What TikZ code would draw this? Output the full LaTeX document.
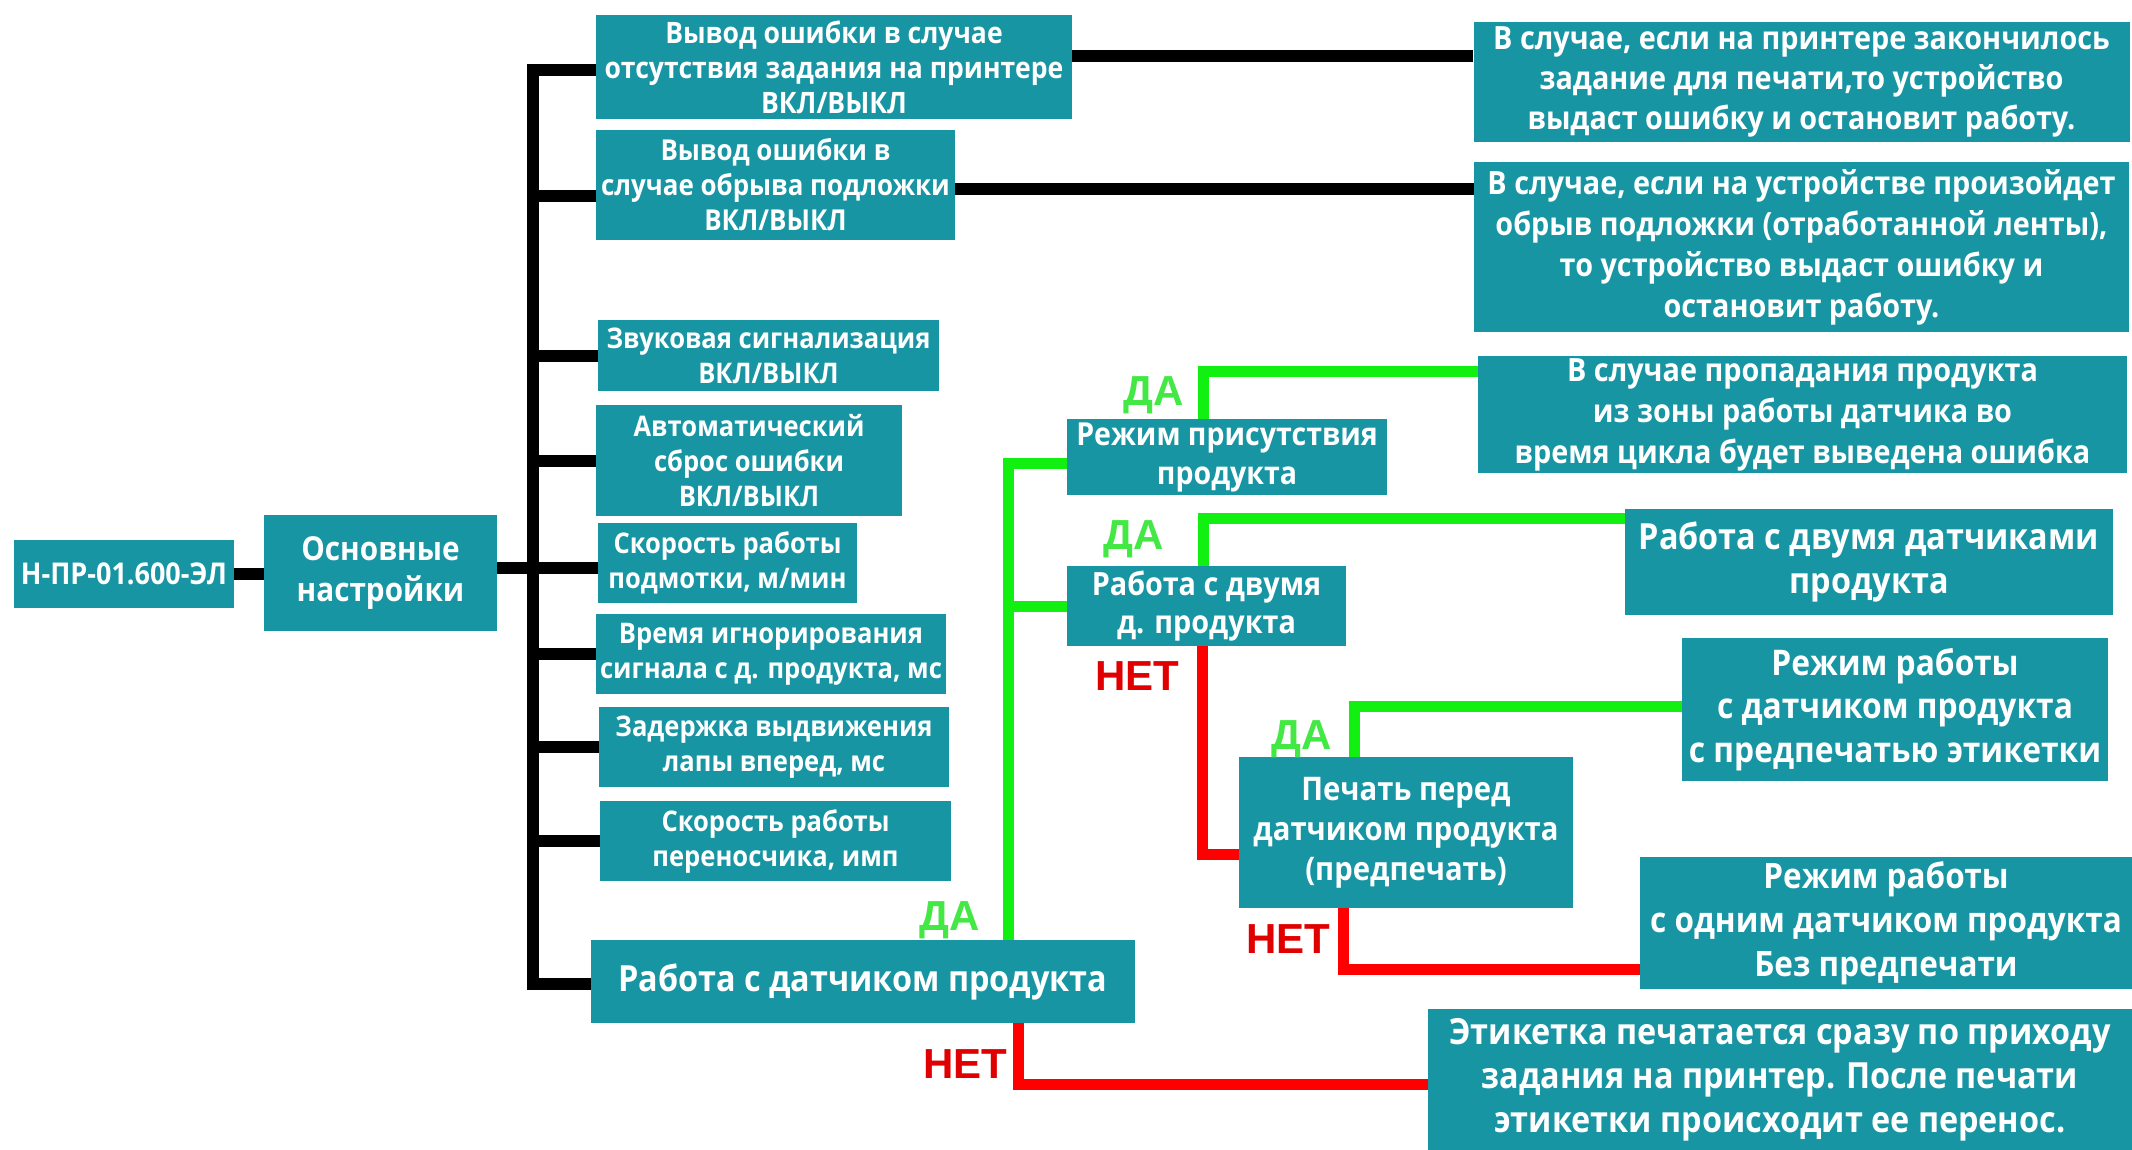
\documentclass[tikz,border=0pt]{standalone}
\usepackage{fontspec}
\setmainfont{Open Sans}[FakeStretch=0.9]
\newfontfamily\lblfont{Liberation Sans}
\definecolor{boxc}{HTML}{1895A3}
\definecolor{lgreen}{HTML}{11F011}
\definecolor{dagreen}{HTML}{44E844}
\definecolor{lred}{HTML}{FF0000}
\definecolor{netred}{HTML}{E00000}
\newcommand\fsz[2]{\fontsize{#1pt}{#2pt}\selectfont\bfseries}
\tikzset{
  box/.style={fill=boxc, text=white, align=center, inner sep=0pt},
  blk/.style={line width=12pt, black},
  grn/.style={line width=11pt, color=lgreen},
  rd/.style={line width=11pt, color=lred},
  da/.style={text=dagreen, anchor=base, inner sep=0pt, font=\lblfont\fsz{42}{42}},
  net/.style={text=netred, anchor=base, inner sep=0pt, font=\lblfont\fsz{42}{42}}
}
\begin{document}
\begin{tikzpicture}[x=1pt,y=-1pt]
\fill[white] (0,0) rectangle (2132,1150);
\useasboundingbox (0,0) rectangle (2132,1150);

% left part
\node[box, minimum width=220pt, minimum height=68pt, font=\fsz{30}{34}] (root) at (124,574) {Н-ПР-01.600-ЭЛ};
\node[box, minimum width=233pt, minimum height=116pt, font=\fsz{33}{41}] (osn) at (380.5,573) {Основные\\настройки};

\node[box, minimum width=476pt, minimum height=104pt, font=\fsz{29.5}{35}] (s1) at (834,67) {Вывод ошибки в случае\\отсутствия задания на принтере\\ВКЛ/ВЫКЛ};
\node[box, minimum width=359pt, minimum height=110pt, font=\fsz{28.8}{35}] (s2) at (775.5,185) {Вывод ошибки в\\случае обрыва подложки\\ВКЛ/ВЫКЛ};
\node[box, minimum width=341pt, minimum height=71pt, font=\fsz{28.4}{35}] (s3) at (768.5,355.5) {Звуковая сигнализация\\ВКЛ/ВЫКЛ};
\node[box, minimum width=306pt, minimum height=111pt, font=\fsz{28.4}{35}] (s4) at (749,460.5) {Автоматический\\сброс ошибки\\ВКЛ/ВЫКЛ};
\node[box, minimum width=259pt, minimum height=80pt, font=\fsz{28.4}{35}] (s5) at (727.5,563) {Скорость работы\\подмотки, м/мин};
\node[box, minimum width=350pt, minimum height=80pt, font=\fsz{28.4}{35}] (s6) at (771,654) {Время игнорирования\\сигнала с д. продукта, мс};
\node[box, minimum width=350pt, minimum height=80pt, font=\fsz{28.4}{35}] (s7) at (774,747) {Задержка выдвижения\\лапы вперед, мс};
\node[box, minimum width=351pt, minimum height=80pt, font=\fsz{28.4}{35}] (s8) at (775.5,841) {Скорость работы\\переносчика, имп};
\node[box, minimum width=544pt, minimum height=83pt, font=\fsz{36}{40}] (s9) at (863,981.5) {Работа с датчиком продукта};

% right part
\node[box, minimum width=656pt, minimum height=120pt, font=\fsz{32}{40}] (r1) at (1801.5,82) {В случае, если на принтере закончилось\\задание для печати,то устройство\\выдаст ошибку и остановит работу.};
\node[box, minimum width=655pt, minimum height=170pt, font=\fsz{32}{41}] (r2) at (1801.5,247) {В случае, если на устройстве произойдет\\обрыв подложки (отработанной ленты),\\то устройство выдаст ошибку и\\остановит работу.};
\node[box, minimum width=649pt, minimum height=117pt, font=\fsz{32}{41}] (r3) at (1802.5,414.5) {В случае пропадания продукта\\из зоны работы датчика во\\время цикла будет выведена ошибка};
\node[box, minimum width=320pt, minimum height=76pt, font=\fsz{31.7}{39}] (mp) at (1227,457) {Режим присутствия\\продукта};
\node[box, minimum width=488pt, minimum height=106pt, font=\fsz{36}{44}] (r4) at (1869,562) {Работа с двумя датчиками\\продукта};
\node[box, minimum width=279pt, minimum height=80pt, font=\fsz{32}{38}] (dv) at (1206.5,606) {Работа с двумя\\д. продукта};
\node[box, minimum width=426pt, minimum height=143pt, font=\fsz{35.3}{43.5}] (r5) at (1895,709.5) {Режим работы\\с датчиком продукта\\с предпечатью этикетки};
\node[box, minimum width=334pt, minimum height=151pt, font=\fsz{32.5}{40}] (pp) at (1406,832.5) {Печать перед\\датчиком продукта\\(предпечать)};
\node[box, minimum width=492pt, minimum height=132pt, font=\fsz{35}{44}] (r6) at (1886,923) {Режим работы\\с одним датчиком продукта\\Без предпечати};
\node[box, minimum width=704pt, minimum height=141pt, font=\fsz{36}{44}] (r7) at (1780,1079.5) {Этикетка печатается сразу по приходу\\задания на принтер. После печати\\этикетки происходит ее перенос.};

% black connectors
\coordinate (bt) at (533,70);
\coordinate (bb) at (533,984);
\coordinate (b2) at (533,196);
\coordinate (b5) at (533,568);
\coordinate (k1) at (1300,56);
\coordinate (k2) at (1300,189);
\draw[blk] (root.east) -- (root.east -| osn.west);
\draw[blk] (bt -| s1.west) -- (bt) -- (bb) -- (bb -| s9.west);
\draw[blk] (b2) -- (b2 -| s2.west);
\draw[blk] (bt |- s3.west) -- (s3.west);
\draw[blk] (bt |- s4.west) -- (s4.west);
\draw[blk] (osn.east |- b5) -- (b5 -| s5.west);
\draw[blk] (bt |- s6.west) -- (s6.west);
\draw[blk] (bt |- s7.west) -- (s7.west);
\draw[blk] (bt |- s8.west) -- (s8.west);
\draw[blk] (s1.east |- k1) -- (k1 -| r1.west);
\draw[blk] (s2.east |- k2) -- (k2 -| r2.west);

% green connectors
\coordinate (gb) at (1008,463);
\coordinate (c3) at (1203,371);
\coordinate (c4) at (1203,518);
\coordinate (c5) at (1354,706);
\draw[grn] (s9.north -| gb) -- (gb) -- (gb -| mp.west);
\draw[grn] (gb |- dv.west) -- (dv.west);
\draw[grn] (mp.north -| c3) -- (c3) -- (c3 -| r3.west);
\draw[grn] (dv.north -| c4) -- (c4) -- (c4 -| r4.west);
\draw[grn] (pp.north -| c5) -- (c5) -- (c5 -| r5.west);

% red connectors
\coordinate (c6) at (1202,854);
\coordinate (c7) at (1343,969);
\coordinate (c8) at (1018,1084);
\draw[rd] (dv.south -| c6) -- (c6) -- (c6 -| pp.west);
\draw[rd] (pp.south -| c7) -- (c7) -- (c7 -| r6.west);
\draw[rd] (s9.south -| c8) -- (c8) -- (c8 -| r7.west);

% labels
\node[da] (y1) at (1154,405) {ДА};
\node[da] (y2) at (1134,549) {ДА};
\node[net] (n1) at (1137,690) {НЕТ};
\node[da] (y3) at (1302,749) {ДА};
\node[net] (n2) at (1288,953) {НЕТ};
\node[da] (y4) at (950,930) {ДА};
\node[net] (n3) at (965,1078) {НЕТ};
\end{tikzpicture}
\end{document}
